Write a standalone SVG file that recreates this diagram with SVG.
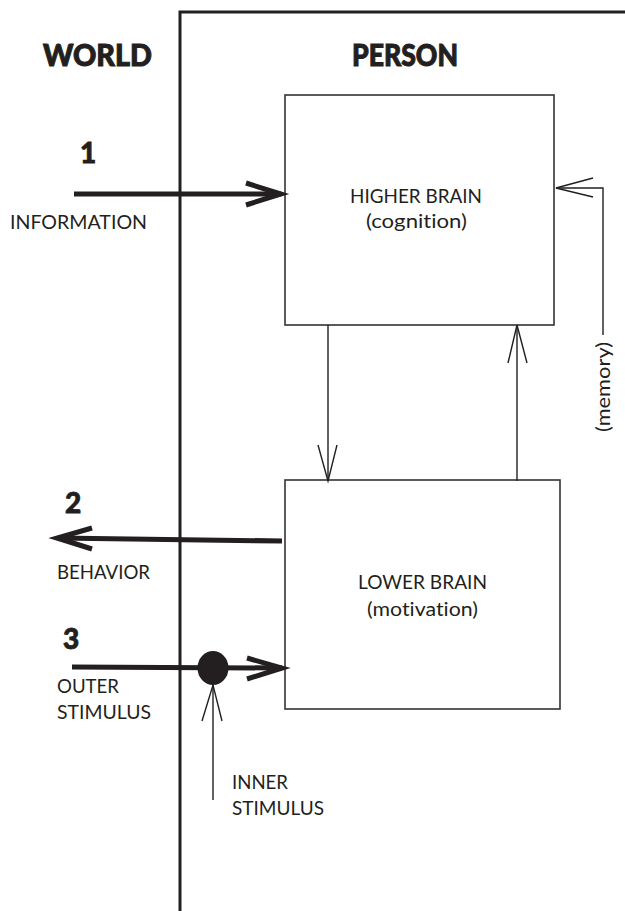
<svg xmlns="http://www.w3.org/2000/svg" width="625" height="911" viewBox="0 0 625 911">
  <style>
    .frame { fill: none; stroke: #231f20; stroke-width: 3; }
    .box { fill: none; stroke: #333; stroke-width: 1.6; }
    .thick { fill: none; stroke: #231f20; stroke-width: 5; stroke-linecap: butt; stroke-linejoin: miter; }
    .thin { fill: none; stroke: #231f20; stroke-width: 1.4; }
    .head { font-family: Lato, "Liberation Sans", sans-serif; font-weight: 900; font-size: 30px; fill: #231f20; stroke: #231f20; stroke-width: 1; }
    .num { font-family: Lato, "Liberation Sans", sans-serif; font-weight: 900; font-size: 28px; fill: #231f20; stroke: #231f20; stroke-width: 0.8; }
    .lbl { font-family: Lato, "Liberation Sans", sans-serif; font-size: 19.5px; fill: #231f20; font-variant-ligatures: none; }
  </style>

  <rect width="625" height="911" fill="#ffffff"/>

  <!-- world / person boundary -->
  <g id="boundary">
    <polyline class="frame" points="180,911 180,12 625,12"/>
    <text class="head" x="43" y="66" textLength="109" lengthAdjust="spacingAndGlyphs">WORLD</text>
    <text class="head" x="352" y="66" textLength="106" lengthAdjust="spacingAndGlyphs">PERSON</text>
  </g>

  <g id="higher-brain">
    <rect class="box" x="285" y="95" width="269" height="230"/>
    <text class="lbl" x="350" y="203" textLength="132" lengthAdjust="spacingAndGlyphs">HIGHER BRAIN</text>
    <text class="lbl" x="366" y="228" textLength="101" lengthAdjust="spacingAndGlyphs">(cognition)</text>
  </g>

  <g id="lower-brain">
    <rect class="box" x="285" y="480" width="275" height="229"/>
    <text class="lbl" x="358" y="589" textLength="129" lengthAdjust="spacingAndGlyphs">LOWER BRAIN</text>
    <text class="lbl" x="367" y="616" textLength="111" lengthAdjust="spacingAndGlyphs">(motivation)</text>
  </g>

  <g id="connectors">
    <!-- 1: information in -->
    <line class="thick" x1="74" y1="194" x2="281" y2="194"/>
    <polyline class="thick" points="246,183 281,194 246,205"/>

    <!-- 2: behavior out -->
    <line class="thick" x1="282" y1="541" x2="58" y2="538"/>
    <polyline class="thick" points="92,528 57,538 92,549"/>

    <!-- 3: outer stimulus in -->
    <line class="thick" x1="72" y1="667" x2="282" y2="668"/>
    <polyline class="thick" points="247,658 282,668 247,679"/>
    <ellipse cx="213" cy="668" rx="15.5" ry="17" fill="#231f20"/>

    <!-- inner stimulus -->
    <line class="thin" x1="213" y1="800" x2="213" y2="685"/>
    <polyline class="thin" points="202,721 213,685 222,721"/>

    <!-- higher to lower -->
    <line class="thin" x1="328" y1="325" x2="328" y2="481"/>
    <polyline class="thin" points="318,445 328,481 337,445"/>

    <!-- lower to higher -->
    <line class="thin" x1="517" y1="481" x2="517" y2="325"/>
    <polyline class="thin" points="508,363 517,325 527,363"/>

    <!-- memory loop -->
    <polyline class="thin" points="603,335 603,188 556,188"/>
    <polyline class="thin" points="593,178 556,188 593,197"/>
  </g>

  <g id="labels">
    <text class="num" x="80" y="163">1</text>
    <text class="lbl" x="10" y="229" textLength="137" lengthAdjust="spacingAndGlyphs">INFORMATION</text>
    <text class="num" x="65" y="513">2</text>
    <text class="lbl" x="57" y="579" textLength="93" lengthAdjust="spacingAndGlyphs">BEHAVIOR</text>
    <text class="num" x="63" y="649">3</text>
    <text class="lbl" x="57" y="693" textLength="62" lengthAdjust="spacingAndGlyphs">OUTER</text>
    <text class="lbl" x="57" y="719" textLength="94" lengthAdjust="spacingAndGlyphs">STIMULUS</text>
    <text class="lbl" x="232" y="789" textLength="56" lengthAdjust="spacingAndGlyphs">INNER</text>
    <text class="lbl" x="232" y="815" textLength="92" lengthAdjust="spacingAndGlyphs">STIMULUS</text>
    <text class="lbl" transform="translate(610,432) rotate(-90)" x="0" y="0" textLength="90" lengthAdjust="spacingAndGlyphs">(memory)</text>
  </g>
</svg>
